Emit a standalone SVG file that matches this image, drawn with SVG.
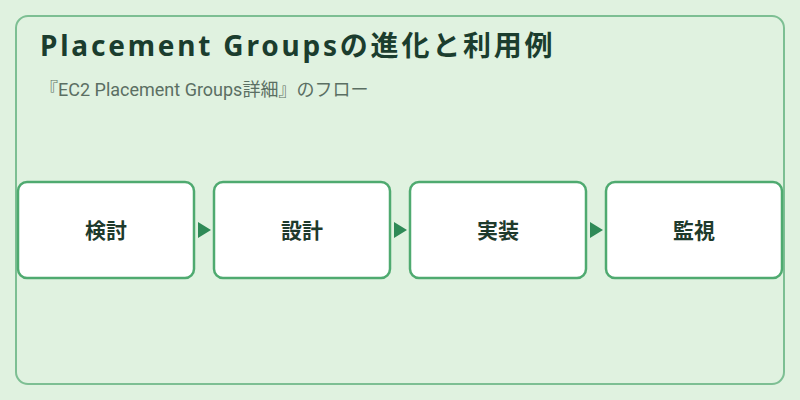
<svg xmlns="http://www.w3.org/2000/svg" width="800" height="400" viewBox="0 0 800 400">
<defs>
<style>
.frame{fill:#e0f2e0;stroke:#7dbf93;stroke-width:2}
.node rect{fill:#ffffff;stroke:#4faa70;stroke-width:2.5}
.node text{font-family:"Noto Sans CJK JP","Noto Sans",sans-serif;font-size:21px;font-weight:700;fill:#1e3a2c;text-anchor:middle;dominant-baseline:central}
.title{font-family:"Noto Sans","Noto Sans CJK JP",sans-serif;font-size:28px;font-weight:700;fill:#1b3d2e;letter-spacing:2.8px}
.sub{font-family:"Roboto","Noto Sans CJK JP",sans-serif;font-size:18px;fill:#5b6f63}
</style>
<marker id="arr" viewBox="0 0 13 16" refX="13" refY="8" markerWidth="13" markerHeight="16" markerUnits="userSpaceOnUse" orient="auto">
<path d="M0,0 L13,8 L0,16 Z" fill="#2f8a57"/>
</marker>
</defs>
<rect width="800" height="400" fill="#e0f2e0"/>
<rect class="frame" x="16" y="16" width="768" height="368" rx="12"/>
<text class="title" x="40" y="56">Placement Groupsの進化と利用例</text>
<text class="sub" x="40" y="96">『EC2 Placement Groups詳細』のフロー</text>
<g id="connectors">
<path d="M196,230 L211,230" fill="none" stroke="none" marker-end="url(#arr)"/>
<path d="M392,230 L407,230" fill="none" stroke="none" marker-end="url(#arr)"/>
<path d="M588,230 L603,230" fill="none" stroke="none" marker-end="url(#arr)"/>
</g>
<g id="node1" class="node"><rect x="18" y="182" width="176" height="96" rx="9"/><text x="106" y="229">検討</text></g>
<g id="node2" class="node"><rect x="214" y="182" width="176" height="96" rx="9"/><text x="302" y="229">設計</text></g>
<g id="node3" class="node"><rect x="410" y="182" width="176" height="96" rx="9"/><text x="498" y="229">実装</text></g>
<g id="node4" class="node"><rect x="606" y="182" width="176" height="96" rx="9"/><text x="694" y="229">監視</text></g>
</svg>
